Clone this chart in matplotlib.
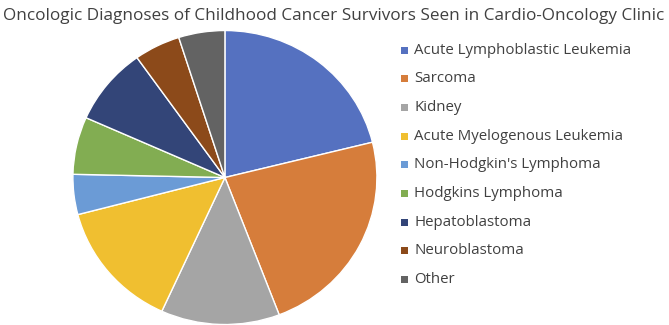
import matplotlib.pyplot as plt
from matplotlib.patches import Rectangle

# Data (percent of patients)
labels = ['Acute Lymphoblastic Leukemia', 'Sarcoma', 'Kidney',
          'Acute Myelogenous Leukemia', "Non-Hodgkin's Lymphoma",
          'Hodgkins Lymphoma', 'Hepatoblastoma', 'Neuroblastoma', 'Other']
shares = [21.1, 23.0, 12.6, 14.1, 4.4, 6.3, 8.5, 4.9, 4.9]
colors = ['#5571C0', '#D67D3B', '#A5A5A5', '#F0BF30', '#6B9BD6',
          '#82AD52', '#334578', '#8C4A1A', '#636363']

plt.rcParams['font.family'] = ['Open Sans', 'DejaVu Sans']

fig = plt.figure(figsize=(6.69, 3.25), dpi=100)

# Pie axes (slightly wider than tall, like the original image)
ax = fig.add_axes([0.109, 0.0015, 0.4544, 0.9046])
wedges, _ = ax.pie(shares, colors=colors, startangle=90, counterclock=False,
                   wedgeprops=dict(edgecolor='white', linewidth=1.0))
ax.set_aspect('auto')
ax.set_xlim(-1, 1)
ax.set_ylim(-1, 1)
ax.axis('off')

fig.text(334 / 669, 1 - 16 / 325, 'Oncologic Diagnoses of Childhood Cancer Survivors Seen in Cardio-Oncology Clinic',
         ha='center', va='center', fontsize=12.3, color='#404040')

# Legend drawn by hand
y0 = 50
step = 28.7
for i, (lab, w) in enumerate(zip(labels, wedges)):
    y = 325 - (y0 + i * step)
    fig.patches.append(Rectangle((401 / 669, (y - 3.5) / 325), 7 / 669, 7 / 325,
                                 transform=fig.transFigure, facecolor=w.get_facecolor(),
                                 edgecolor='none'))
    fig.text(414 / 669, y / 325, lab, ha='left', va='center',
             fontsize=10.8, color='#404040')

fig.savefig('out.png', dpi=100)
